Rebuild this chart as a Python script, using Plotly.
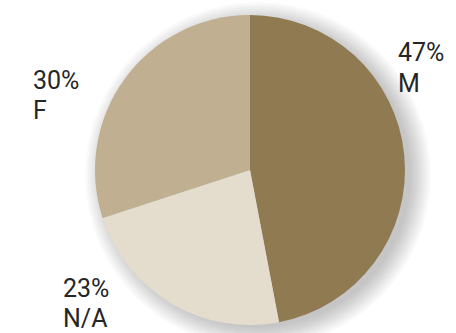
import plotly.graph_objects as go

labels = ["M", "N/A", "F"]
values = [47, 23, 30]
colors = ["#8f7a52", "#e4ddce", "#c0af90"]

W, H = 456, 333
cx, cy, r = 250, 170, 155

fig = go.Figure()
fig.add_trace(go.Pie(
    labels=labels, values=values, sort=False, direction="clockwise", rotation=0,
    marker=dict(colors=colors, line=dict(width=0)),
    textinfo="none", hoverinfo="label+percent", showlegend=False,
    domain=dict(x=[(cx - r) / W, (cx + r) / W], y=[(H - cy - r) / H, (H - cy + r) / H]),
))

# soft drop shadow
shapes = []
n = 10
for i in range(n):
    rr = r - 2 + i * 2.2
    ox, oy = 8, 5
    shapes.append(dict(
        type="circle", xref="paper", yref="paper", layer="below",
        x0=(cx + ox - rr) / W, x1=(cx + ox + rr) / W,
        y0=(H - cy - oy - rr) / H, y1=(H - cy - oy + rr) / H,
        fillcolor="rgba(0,0,0,0.022)", line=dict(width=0),
    ))

# labels: percent text and category text
label_pos = {"M": (397, 44), "F": (32, 71), "N/A": (62, 279)}
font = dict(family="Roboto", size=25, color="#262626")
ann = []
for lab, val in zip(labels, values):
    x, ytop = label_pos[lab]
    for j, txt in enumerate([f"{val}%", lab]):
        ann.append(dict(
            text=txt, xref="paper", yref="paper", showarrow=False,
            x=x / W, y=(H - (ytop + 9 + j * 30)) / H,
            xanchor="left", yanchor="middle", font=font, borderpad=0,
        ))

fig.update_layout(
    width=W, height=H, margin=dict(l=0, r=0, t=0, b=0),
    paper_bgcolor="white", plot_bgcolor="white",
    shapes=shapes, annotations=ann,
)
fig.write_html("out.html")
